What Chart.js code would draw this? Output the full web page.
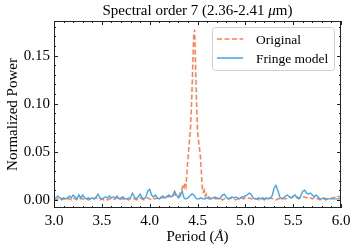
<!DOCTYPE html>
<html>
<head>
<meta charset="utf-8">
<script src="https://cdn.jsdelivr.net/npm/chart.js@4.4.0/dist/chart.umd.min.js"></script>
<style>
  html, body { margin: 0; padding: 0; background: #fff; }
  #wrap { width: 357px; height: 251px; }
</style>
</head>
<body>
<div id="wrap"><canvas id="myChart"></canvas></div>
<script>
// period grid (Angstrom), finer around the peak
var period = [
  3.00, 3.02, 3.04, 3.06, 3.08, 3.10, 3.12, 3.14, 3.16, 3.18,
  3.20, 3.22, 3.24, 3.26, 3.28, 3.30, 3.32, 3.34, 3.36, 3.38,
  3.40, 3.42, 3.44, 3.46, 3.48, 3.50, 3.52, 3.54, 3.56, 3.58,
  3.60, 3.62, 3.64, 3.66, 3.68, 3.70, 3.72, 3.74, 3.76, 3.78,
  3.80, 3.82, 3.84, 3.86, 3.88, 3.90, 3.92, 3.94, 3.96, 3.98,
  4.00, 4.02, 4.04, 4.06, 4.08, 4.10, 4.12, 4.14, 4.16, 4.18,
  4.20, 4.22, 4.24, 4.26, 4.28, 4.30,
  4.31, 4.32, 4.33, 4.34, 4.35, 4.36, 4.37, 4.38, 4.39, 4.40,
  4.41, 4.42, 4.43, 4.44, 4.45, 4.46, 4.47, 4.48, 4.49, 4.50,
  4.51, 4.52, 4.53, 4.54, 4.55, 4.56, 4.57, 4.58, 4.59, 4.60,
  4.62, 4.64, 4.66, 4.68, 4.70, 4.72, 4.74, 4.76, 4.78, 4.80,
  4.82, 4.84, 4.86, 4.88, 4.90, 4.92, 4.94, 4.96, 4.98, 5.00,
  5.02, 5.04, 5.06, 5.08, 5.10, 5.12, 5.14, 5.16, 5.18, 5.20,
  5.22, 5.24, 5.26, 5.28, 5.30, 5.32, 5.34, 5.36, 5.38, 5.40,
  5.42, 5.44, 5.46, 5.48, 5.50, 5.52, 5.54, 5.56, 5.58, 5.60,
  5.62, 5.64, 5.66, 5.68, 5.70, 5.72, 5.74, 5.76, 5.78, 5.80,
  5.82, 5.84, 5.86, 5.88, 5.90, 5.92, 5.94, 5.96, 5.98, 6.00
];

var originalPower = [
  0.001, 0.000, 0.001, 0.002, 0.000, 0.001, 0.000, 0.001, 0.001, 0.000,
  0.002, 0.001, 0.000, 0.002, 0.001, 0.001, 0.000, 0.001, 0.000, 0.001,
  0.000, 0.001, 0.002, 0.001, 0.000, 0.001, 0.000, 0.001, 0.000, 0.001,
  0.001, 0.000, 0.001, 0.002, 0.000, 0.001, 0.001, 0.000, 0.001, 0.000,
  0.001, 0.002, 0.001, 0.000, 0.001, 0.002, 0.001, 0.000, 0.001, 0.002,
  0.001, 0.000, 0.001, 0.001, 0.002, 0.001, 0.003, 0.002, 0.003, 0.004,
  0.003, 0.005, 0.004, 0.006, 0.004, 0.003,
  0.005, 0.008, 0.010, 0.012, 0.016, 0.013, 0.018, 0.014, 0.030, 0.042,
  0.055, 0.066, 0.080, 0.105, 0.140, 0.170, 0.177, 0.140, 0.100, 0.072,
  0.062, 0.055, 0.045, 0.030, 0.012, 0.008, 0.010, 0.004, 0.006, 0.002,
  0.003, 0.001, 0.002, 0.001, 0.001, 0.002, 0.001, 0.000, 0.001, 0.002,
  0.001, 0.001, 0.002, 0.001, 0.000, 0.001, 0.001, 0.002, 0.001, 0.002,
  0.001, 0.002, 0.001, 0.000, 0.001, 0.001, 0.000, 0.001, 0.001, 0.000,
  0.001, 0.001, 0.002, 0.001, 0.001, 0.000, 0.001, 0.001, 0.002, 0.001,
  0.001, 0.002, 0.003, 0.002, 0.003, 0.002, 0.003, 0.002, 0.002, 0.003,
  0.003, 0.002, 0.003, 0.002, 0.001, 0.002, 0.001, 0.001, 0.000, 0.001,
  0.001, 0.000, 0.001, 0.001, 0.002, 0.002, 0.003, 0.004, 0.003, 0.004
];

var fringePower = [
  0.002, 0.002, 0.004, 0.002, 0.001, 0.002, 0.001, 0.002, 0.004, 0.002,
  0.005, 0.003, 0.001, 0.005, 0.002, 0.005, 0.002, 0.001, 0.002, 0.001,
  0.002, 0.001, 0.003, 0.006, 0.002, 0.001, 0.002, 0.003, 0.002, 0.004,
  0.002, 0.003, 0.002, 0.004, 0.001, 0.002, 0.003, 0.001, 0.001, 0.002,
  0.002, 0.007, 0.003, 0.001, 0.003, 0.006, 0.002, 0.001, 0.003, 0.009,
  0.011, 0.005, 0.003, 0.005, 0.002, 0.001, 0.002, 0.004, 0.002, 0.003,
  0.005, 0.003, 0.004, 0.009, 0.005, 0.002,
  0.003, 0.004, 0.007, 0.009, 0.005, 0.002, 0.001, 0.001, 0.001, 0.002,
  0.003, 0.004, 0.005, 0.006, 0.006, 0.005, 0.004, 0.002, 0.001, 0.001,
  0.001, 0.001, 0.002, 0.002, 0.001, 0.001, 0.001, 0.001, 0.002, 0.002,
  0.001, 0.001, 0.002, 0.003, 0.002, 0.001, 0.002, 0.005, 0.006, 0.003,
  0.001, 0.002, 0.003, 0.002, 0.003, 0.002, 0.001, 0.003, 0.003, 0.004,
  0.005, 0.007, 0.006, 0.002, 0.001, 0.001, 0.002, 0.001, 0.002, 0.001,
  0.002, 0.001, 0.002, 0.004, 0.012, 0.015, 0.010, 0.003, 0.001, 0.002,
  0.004, 0.005, 0.003, 0.002, 0.004, 0.005, 0.002, 0.001, 0.004, 0.009,
  0.010, 0.007, 0.006, 0.007, 0.005, 0.003, 0.005, 0.003, 0.001, 0.001,
  0.002, 0.001, 0.001, 0.001, 0.001, 0.001, 0.001, 0.001, 0.001, 0.001
];

var xTicks = [3.0, 3.5, 4.0, 4.5, 5.0, 5.5, 6.0];
var yTicks = [0.00, 0.05, 0.10, 0.15];
var seriesNames = ["Original", "Fringe model"];
// text pieces: [text, italic?]
var titleParts = [["Spectral order 7 (2.36-2.41 ", false], ["μ", true], ["m)", false]];
var xTitleParts = [["Period (", false], ["Å", true], [")", false]];
var yTitle = "Normalized Power";

var FONT = "'Liberation Serif', 'Times New Roman', serif";
var ORANGE = "#ff7f50";
var BLUE = "#45a5ea";

function toPoints(xs, ys) {
  return xs.map(function(x, i) { return { x: x, y: ys[i] }; });
}

// draw mixed upright/italic text centered at cx
function drawParts(ctx, parts, cx, cy, size) {
  var widths = parts.map(function(p) {
    ctx.font = (p[1] ? "italic " : "") + size + "px " + FONT;
    return ctx.measureText(p[0]).width;
  });
  var total = widths.reduce(function(s, w) { return s + w; }, 0);
  var x = cx - total / 2;
  ctx.textAlign = "left";
  ctx.textBaseline = "middle";
  parts.forEach(function(p, i) {
    ctx.font = (p[1] ? "italic " : "") + size + "px " + FONT;
    ctx.fillText(p[0], x, cy);
    x += widths[i];
  });
}

// inward ticks on all four sides, frame, titles
var frameTicks = {
  id: 'frameTicks',
  afterDraw: function(chart) {
    var ctx = chart.ctx, a = chart.chartArea;
    var xs = chart.scales.x, ys = chart.scales.y;
    ctx.save();
    ctx.strokeStyle = "#222";
    ctx.lineWidth = 1;
    ctx.strokeRect(Math.round(a.left) + 0.5, Math.round(a.top) + 0.5,
                   Math.round(a.right - a.left) - 1, Math.round(a.bottom - a.top) - 1);
    ctx.beginPath();
    for (var i = 0; i <= 30; i++) {
      var v = 3 + i * 0.1;
      var px = Math.round(xs.getPixelForValue(v)) + 0.5;
      var len = (i % 5 === 0) ? 4 : 2;
      ctx.moveTo(px, a.bottom); ctx.lineTo(px, a.bottom - len);
      ctx.moveTo(px, a.top); ctx.lineTo(px, a.top + len);
    }
    for (var j = 0; j <= 18; j++) {
      var w = j * 0.01;
      var py = Math.round(ys.getPixelForValue(w)) + 0.5;
      var l2 = (j % 5 === 0) ? 4 : 2;
      ctx.moveTo(a.left, py); ctx.lineTo(a.left + l2, py);
      ctx.moveTo(a.right, py); ctx.lineTo(a.right - l2, py);
    }
    ctx.stroke();

    ctx.fillStyle = "#000";
    var cx = (a.left + a.right) / 2;
    drawParts(ctx, titleParts, cx, 11, 15);
    drawParts(ctx, xTitleParts, cx, 237, 15);
    ctx.font = "15px " + FONT;
    ctx.textAlign = "center";
    ctx.translate(13, (a.top + a.bottom) / 2);
    ctx.rotate(-Math.PI / 2);
    ctx.fillText(yTitle, 0, 0);
    ctx.restore();
  }
};

// legend box inside the plot, upper right
var innerLegend = {
  id: 'innerLegend',
  afterDraw: function(chart) {
    var ctx = chart.ctx;
    var bx = 212.5, by = 27.5, bw = 122, bh = 43, r = 3;
    ctx.save();
    ctx.beginPath();
    ctx.moveTo(bx + r, by);
    ctx.arcTo(bx + bw, by, bx + bw, by + bh, r);
    ctx.arcTo(bx + bw, by + bh, bx, by + bh, r);
    ctx.arcTo(bx, by + bh, bx, by, r);
    ctx.arcTo(bx, by, bx + bw, by, r);
    ctx.closePath();
    ctx.fillStyle = "rgba(255,255,255,0.85)";
    ctx.fill();
    ctx.strokeStyle = "#d0d0d0";
    ctx.lineWidth = 1;
    ctx.stroke();

    var rows = [
      { y: 39, color: ORANGE, dash: [5, 2.5] },
      { y: 58, color: BLUE, dash: [] }
    ];
    ctx.font = "13.5px " + FONT;
    ctx.textBaseline = "middle";
    ctx.textAlign = "left";
    rows.forEach(function(row, k) {
      ctx.beginPath();
      ctx.setLineDash(row.dash);
      ctx.strokeStyle = row.color;
      ctx.lineWidth = 1.5;
      ctx.moveTo(217, row.y); ctx.lineTo(243, row.y);
      ctx.stroke();
      ctx.setLineDash([]);
      ctx.fillStyle = "#000";
      ctx.fillText(seriesNames[k], 256, row.y + 1);
    });
    ctx.restore();
  }
};

var ctx = document.getElementById("myChart").getContext('2d');
var myChart = new Chart(ctx, {
  type: 'scatter',
  data: {
    datasets: [{
      label: seriesNames[0],
      data: toPoints(period, originalPower),
      showLine: true,
      borderColor: ORANGE,
      borderWidth: 1.5,
      borderDash: [5, 2.5],
      pointRadius: 0,
      tension: 0,
      order: 2
    }, {
      label: seriesNames[1],
      data: toPoints(period, fringePower),
      showLine: true,
      borderColor: BLUE,
      borderWidth: 1.4,
      pointRadius: 0,
      tension: 0,
      order: 1
    }]
  },
  options: {
    responsive: true,
    maintainAspectRatio: false,
    animation: false,
    layout: {
      padding: { left: 0, right: 16, top: 21, bottom: 0 }
    },
    scales: {
      x: {
        type: 'linear',
        min: 3.0,
        max: 6.0,
        grid: { display: false, drawTicks: false },
        border: { display: false },
        afterFit: function(scale) { scale.height = 43; },
        afterBuildTicks: function(scale) {
          scale.ticks = xTicks.map(function(v) { return { value: v }; });
        },
        ticks: {
          padding: 4,
          color: '#000',
          font: { family: FONT, size: 15 },
          maxRotation: 0,
          callback: function(value) { return value.toFixed(1); }
        }
      },
      y: {
        type: 'linear',
        min: -0.0085,
        max: 0.186,
        grid: { display: false, drawTicks: false },
        border: { display: false },
        afterFit: function(scale) { scale.width = 54; },
        afterBuildTicks: function(scale) {
          scale.ticks = yTicks.map(function(v) { return { value: v }; });
        },
        ticks: {
          padding: 4,
          color: '#000',
          font: { family: FONT, size: 15 },
          callback: function(value) { return value.toFixed(2); }
        }
      }
    },
    plugins: {
      legend: { display: false },
      tooltip: { enabled: false },
      title: { display: false }
    }
  },
  plugins: [frameTicks, innerLegend]
});
</script>
</body>
</html>
